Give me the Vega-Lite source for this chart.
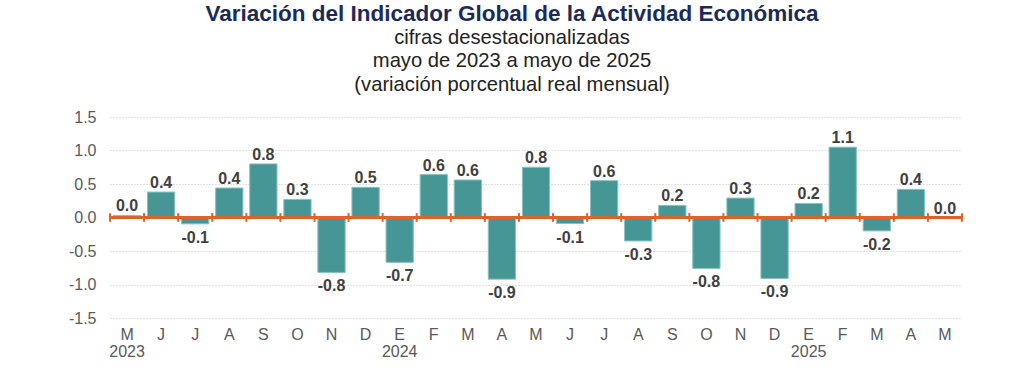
{
  "$schema": "https://vega.github.io/schema/vega-lite/v6.json",
  "width": 852,
  "height": 201,
  "autosize": {"type": "none"},
  "padding": {"left": 110, "top": 117, "right": 62, "bottom": 65},
  "background": "white",
  "config": {
    "view": {"stroke": null},
    "font": "Liberation Sans",
    "axisX": {
      "title": null, "domain": false, "ticks": false, "labelAngle": 0, "grid": false,
      "labelFont": "Liberation Sans", "labelFontSize": 16, "labelColor": "#595959",
      "labelPadding": 8, "labelLineHeight": 17
    },
    "axisY": {
      "title": null, "grid": true, "gridDash": [1, 2], "gridColor": "#c4c4c4", "gridWidth": 1,
      "domain": false, "ticks": false,
      "labelFont": "Liberation Sans", "labelFontSize": 16, "labelColor": "#595959", "labelPadding": 14
    }
  },
  "title": {
    "text": "Variación del Indicador Global de la Actividad Económica",
    "subtitle": ["cifras desestacionalizadas", "mayo de 2023 a mayo de 2025", "(variación porcentual real mensual)"],
    "anchor": "middle",
    "dx": -24,
    "font": "Liberation Sans",
    "fontSize": 22.5,
    "fontWeight": "bold",
    "color": "#1c2a59",
    "subtitleFont": "Liberation Sans",
    "subtitleFontSize": 20.2,
    "subtitleColor": "#222222",
    "subtitleLineHeight": 23.3,
    "subtitlePadding": 3,
    "offset": 14
  },
  "data": {"values": [
    {"fecha": "2023-05", "valor": 0.03, "etiqueta": "0.0"},
    {"fecha": "2023-06", "valor": 0.38, "etiqueta": "0.4"},
    {"fecha": "2023-07", "valor": -0.095, "etiqueta": "-0.1"},
    {"fecha": "2023-08", "valor": 0.44, "etiqueta": "0.4"},
    {"fecha": "2023-09", "valor": 0.80, "etiqueta": "0.8"},
    {"fecha": "2023-10", "valor": 0.27, "etiqueta": "0.3"},
    {"fecha": "2023-11", "valor": -0.82, "etiqueta": "-0.8"},
    {"fecha": "2023-12", "valor": 0.45, "etiqueta": "0.5"},
    {"fecha": "2024-01", "valor": -0.67, "etiqueta": "-0.7"},
    {"fecha": "2024-02", "valor": 0.64, "etiqueta": "0.6"},
    {"fecha": "2024-03", "valor": 0.56, "etiqueta": "0.6"},
    {"fecha": "2024-04", "valor": -0.92, "etiqueta": "-0.9"},
    {"fecha": "2024-05", "valor": 0.75, "etiqueta": "0.8"},
    {"fecha": "2024-06", "valor": -0.09, "etiqueta": "-0.1"},
    {"fecha": "2024-07", "valor": 0.55, "etiqueta": "0.6"},
    {"fecha": "2024-08", "valor": -0.35, "etiqueta": "-0.3"},
    {"fecha": "2024-09", "valor": 0.18, "etiqueta": "0.2"},
    {"fecha": "2024-10", "valor": -0.76, "etiqueta": "-0.8"},
    {"fecha": "2024-11", "valor": 0.29, "etiqueta": "0.3"},
    {"fecha": "2024-12", "valor": -0.91, "etiqueta": "-0.9"},
    {"fecha": "2025-01", "valor": 0.21, "etiqueta": "0.2"},
    {"fecha": "2025-02", "valor": 1.05, "etiqueta": "1.1"},
    {"fecha": "2025-03", "valor": -0.20, "etiqueta": "-0.2"},
    {"fecha": "2025-04", "valor": 0.42, "etiqueta": "0.4"},
    {"fecha": "2025-05", "valor": 0.0, "etiqueta": "0.0"}
  ]},
  "layer": [
    {
      "mark": {"type": "bar", "width": {"band": 0.8}, "color": "#479696", "stroke": "#86c2c2", "strokeWidth": 1},
      "encoding": {
        "x": {
          "field": "fecha", "type": "ordinal",
          "scale": {"paddingInner": 0, "paddingOuter": 0},
          "axis": {
            "title": null,
            "labelExpr": "[substring('EFMAMJJASOND', toNumber(substring(datum.value,5,7))-1, toNumber(substring(datum.value,5,7))), (datum.value=='2023-05'||datum.value=='2024-01'||datum.value=='2025-01') ? substring(datum.value,0,4) : '']"
          }
        },
        "y": {
          "field": "valor", "type": "quantitative",
          "scale": {"domain": [-1.5, 1.5], "nice": false, "zero": true},
          "axis": {"title": null, "values": [-1.5, -1, -0.5, 0, 0.5, 1, 1.5], "labelExpr": "datum.value < 0 ? '-' + format(-datum.value, '.1f') : format(datum.value, '.1f')"}
        }
      }
    },
    {
      "mark": {"type": "rule", "color": "#E0622A", "strokeWidth": 2},
      "encoding": {"y": {"datum": 0, "type": "quantitative", "axis": {"title": null, "values": [-1.5, -1, -0.5, 0, 0.5, 1, 1.5], "labelExpr": "datum.value < 0 ? '-' + format(-datum.value, '.1f') : format(datum.value, '.1f')"}}}
    },
    {
      "mark": {"type": "rule", "color": "#E0622A", "strokeWidth": 2},
      "encoding": {
        "x": {"field": "fecha", "type": "ordinal", "bandPosition": 0, "axis": {"title": null, "labelExpr": "[substring('EFMAMJJASOND', toNumber(substring(datum.value,5,7))-1, toNumber(substring(datum.value,5,7))), (datum.value=='2023-05'||datum.value=='2024-01'||datum.value=='2025-01') ? substring(datum.value,0,4) : '']"}},
        "y": {"datum": -0.065, "type": "quantitative", "axis": {"title": null, "values": [-1.5, -1, -0.5, 0, 0.5, 1, 1.5], "labelExpr": "datum.value < 0 ? '-' + format(-datum.value, '.1f') : format(datum.value, '.1f')"}},
        "y2": {"datum": 0.065}
      }
    },
    {
      "transform": [{"filter": "datum.fecha == '2025-05'"}],
      "mark": {"type": "rule", "color": "#E0622A", "strokeWidth": 2},
      "encoding": {
        "x": {"field": "fecha", "type": "ordinal", "bandPosition": 1, "axis": {"title": null, "labelExpr": "[substring('EFMAMJJASOND', toNumber(substring(datum.value,5,7))-1, toNumber(substring(datum.value,5,7))), (datum.value=='2023-05'||datum.value=='2024-01'||datum.value=='2025-01') ? substring(datum.value,0,4) : '']"}},
        "y": {"datum": -0.065, "type": "quantitative", "axis": {"title": null, "values": [-1.5, -1, -0.5, 0, 0.5, 1, 1.5], "labelExpr": "datum.value < 0 ? '-' + format(-datum.value, '.1f') : format(datum.value, '.1f')"}},
        "y2": {"datum": 0.065}
      }
    },
    {
      "transform": [{"filter": "datum.valor >= 0"}],
      "mark": {"type": "text", "baseline": "alphabetic", "dy": -4, "font": "Liberation Sans", "fontSize": 16, "fontWeight": "bold", "color": "#404040"},
      "encoding": {
        "x": {"field": "fecha", "type": "ordinal", "axis": {"title": null, "labelExpr": "[substring('EFMAMJJASOND', toNumber(substring(datum.value,5,7))-1, toNumber(substring(datum.value,5,7))), (datum.value=='2023-05'||datum.value=='2024-01'||datum.value=='2025-01') ? substring(datum.value,0,4) : '']"}},
        "y": {"field": "valor", "type": "quantitative", "axis": {"title": null, "values": [-1.5, -1, -0.5, 0, 0.5, 1, 1.5], "labelExpr": "datum.value < 0 ? '-' + format(-datum.value, '.1f') : format(datum.value, '.1f')"}},
        "text": {"field": "etiqueta"}
      }
    },
    {
      "transform": [{"filter": "datum.valor < 0"}],
      "mark": {"type": "text", "baseline": "top", "dy": 6, "font": "Liberation Sans", "fontSize": 16, "fontWeight": "bold", "color": "#404040"},
      "encoding": {
        "x": {"field": "fecha", "type": "ordinal", "axis": {"title": null, "labelExpr": "[substring('EFMAMJJASOND', toNumber(substring(datum.value,5,7))-1, toNumber(substring(datum.value,5,7))), (datum.value=='2023-05'||datum.value=='2024-01'||datum.value=='2025-01') ? substring(datum.value,0,4) : '']"}},
        "y": {"field": "valor", "type": "quantitative", "axis": {"title": null, "values": [-1.5, -1, -0.5, 0, 0.5, 1, 1.5], "labelExpr": "datum.value < 0 ? '-' + format(-datum.value, '.1f') : format(datum.value, '.1f')"}},
        "text": {"field": "etiqueta"}
      }
    }
  ]
}
